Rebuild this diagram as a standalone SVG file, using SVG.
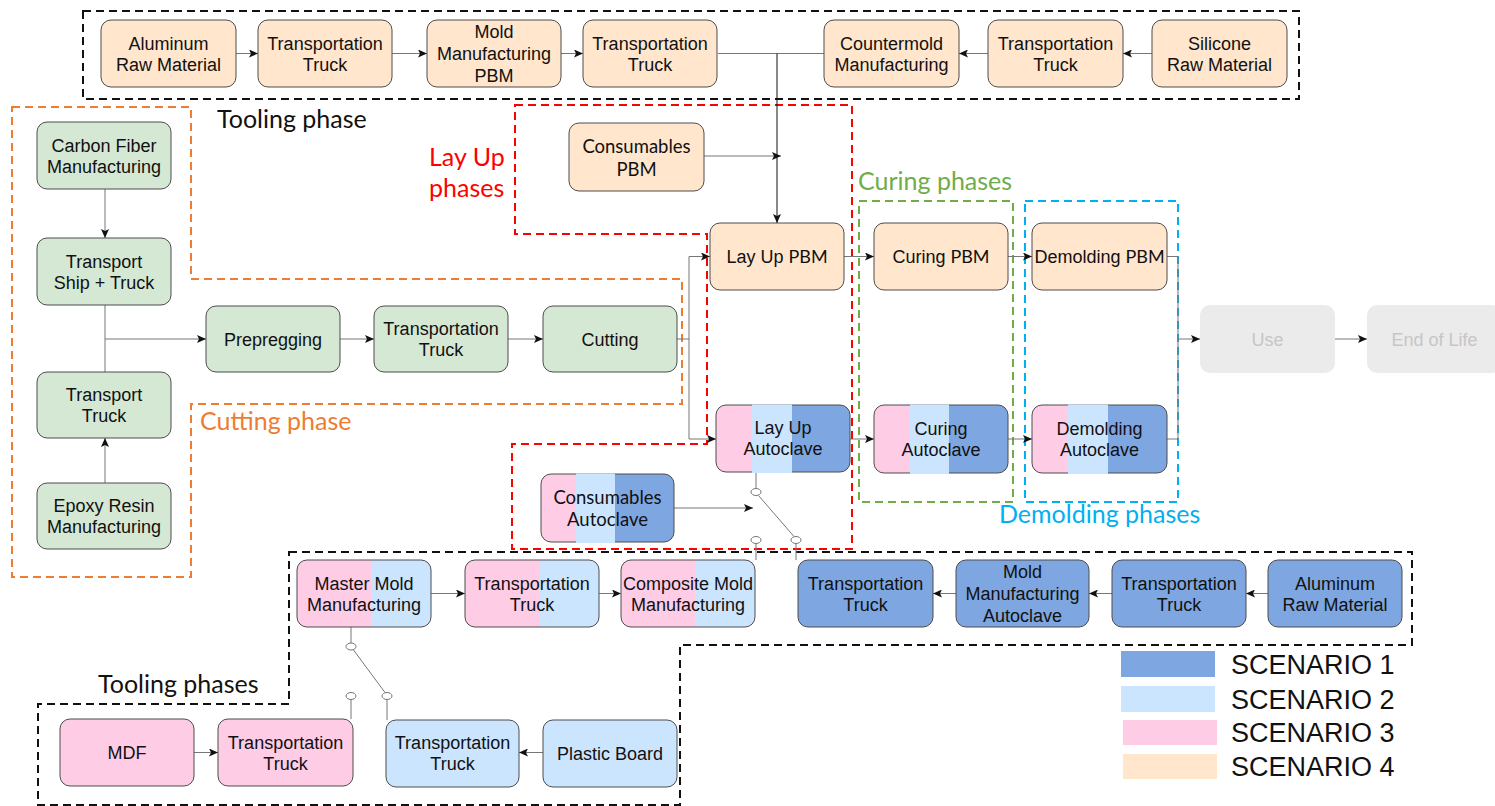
<svg xmlns="http://www.w3.org/2000/svg" width="1495" height="806" viewBox="0 0 1495 806">
<style>
.n{stroke:#4d4d4d;stroke-width:1}
.o{fill:none;stroke:#4d4d4d;stroke-width:1}
.peach{fill:#FFE6CC}.green{fill:#D5E8D4}.pink{fill:#FFCCE6}.lb{fill:#CCE5FF}.db{fill:#7EA6E0}
.t{font-family:"Liberation Sans",Arial,sans-serif;font-size:18px;fill:#111;text-anchor:middle}
.l{font-family:Lato,"Open Sans",sans-serif}
.c{fill:none;stroke:#777;stroke-width:1}
.k{fill:none;stroke:#111;stroke-width:1}
.ph{font-family:Lato,"Open Sans",sans-serif;font-size:25px}
.dash{fill:none;stroke-width:2;stroke-dasharray:8 5}
.sw{fill:#fff;stroke:#777;stroke-width:1}
.lg{font-family:"Liberation Sans",Arial,sans-serif;font-size:27px;fill:#111}
</style>
<defs>
<marker id="a" markerUnits="userSpaceOnUse" markerWidth="10" markerHeight="8" refX="9" refY="4" orient="auto">
<path d="M0,0 L9,4 L0,8 L2,4 Z" fill="#111"/>
</marker>
</defs>
<rect width="1495" height="806" fill="#fff"/>

<g id="frames">
<rect class="dash" x="83" y="11" width="1216" height="88" stroke="#111"/>
<path class="dash" stroke="#ED7D31" d="M12,107 H191 V279 H682 V404 H191 V577 H12 Z"/>
<path class="dash" stroke="#FF0000" d="M515,105 H852 V549 H512 V444 H707 V234 H515 Z"/>
<rect class="dash" x="859" y="201" width="154" height="301" stroke="#70AD47"/>
<rect class="dash" x="1025" y="201" width="153" height="301" stroke="#00B0F0"/>
<path class="dash" stroke="#111" d="M289,552 H1412 V645 H680 V805 H38 V704 H289 Z"/>
<text class="ph" x="217" y="128" fill="#111">Tooling phase</text>
<text class="ph" x="200" y="430" fill="#ED7D31">Cutting phase</text>
<text class="ph" x="429" y="166" fill="#FF0000">Lay Up</text>
<text class="ph" x="429" y="197" fill="#FF0000">phases</text>
<text class="ph" x="858" y="190" fill="#70AD47">Curing phases</text>
<text class="ph" x="999" y="523" fill="#00B0F0">Demolding phases</text>
<text class="ph" x="98" y="693" fill="#111">Tooling phases</text>
</g>

<g id="connectors">
<path class="c" d="M236,53.5 H258" marker-end="url(#a)"/>
<path class="c" d="M392,53.5 H427" marker-end="url(#a)"/>
<path class="c" d="M561,53.5 H583" marker-end="url(#a)"/>
<path class="c" d="M718,53.5 H824"/>
<path class="k" d="M777,53.5 V223" marker-end="url(#a)"/>
<path class="c" d="M704,156 H781" marker-end="url(#a)"/>
<path class="c" d="M988,53.5 H959" marker-end="url(#a)"/>
<path class="c" d="M1152,53.5 H1123" marker-end="url(#a)"/>
<path class="c" d="M105,189 V238" marker-end="url(#a)"/>
<path class="c" d="M105,483 V438" marker-end="url(#a)"/>
<path class="c" d="M105,305 V372"/>
<path class="c" d="M105,339 H206" marker-end="url(#a)"/>
<path class="c" d="M340,339 H374" marker-end="url(#a)"/>
<path class="c" d="M508,339 H543" marker-end="url(#a)"/>
<path class="c" d="M677,339 H689 M689,256.5 V439"/>
<path class="c" d="M689,256.5 H710" marker-end="url(#a)"/>
<path class="c" d="M689,439 H716" marker-end="url(#a)"/>
<path class="c" d="M844,256.5 H874" marker-end="url(#a)"/>
<path class="c" d="M1008,256.5 H1032" marker-end="url(#a)"/>
<path class="c" d="M850,439 H874" marker-end="url(#a)"/>
<path class="c" d="M1008,439 H1032" marker-end="url(#a)"/>
<path class="c" d="M1167,256.5 H1178 V439 H1167"/>
<path class="c" d="M1178,339 H1200" marker-end="url(#a)"/>
<path class="c" d="M1335,339 H1367" marker-end="url(#a)"/>
<path class="c" d="M674,508 H753" marker-end="url(#a)"/>
<path class="c" d="M431,593.5 H465" marker-end="url(#a)"/>
<path class="c" d="M599,593.5 H621" marker-end="url(#a)"/>
<path class="c" d="M956,593.5 H933" marker-end="url(#a)"/>
<path class="c" d="M1112,593.5 H1089" marker-end="url(#a)"/>
<path class="c" d="M1268,593.5 H1246" marker-end="url(#a)"/>
<path class="c" d="M194,752.5 H218" marker-end="url(#a)"/>
<path class="c" d="M543,752.5 H519" marker-end="url(#a)"/>
<path class="c" d="M756,472 V488.5 M758.5,495.5 L794,536.5 M756,543.5 V560 M796,543.5 V560"/>
<ellipse class="sw" cx="756" cy="492" rx="5" ry="3.5"/>
<ellipse class="sw" cx="756" cy="540" rx="5" ry="3.5"/>
<ellipse class="sw" cx="796" cy="540" rx="5" ry="3.5"/>
<path class="c" d="M351,627 V643 M353.5,650 L385,692.5 M351,699.5 V719 M387,699.5 V720"/>
<ellipse class="sw" cx="351" cy="646.5" rx="5" ry="3.5"/>
<ellipse class="sw" cx="351" cy="696" rx="5" ry="3.5"/>
<ellipse class="sw" cx="387" cy="696" rx="5" ry="3.5"/>
</g>

<g id="n_al1"><rect class="n peach" x="101" y="20" width="135" height="67" rx="10"/><text class="t" x="168.5" y="49.5">Aluminum</text><text class="t" x="168.5" y="70.5">Raw Material</text></g>
<g id="n_tt1"><rect class="n peach" x="258" y="20" width="134" height="67" rx="10"/><text class="t" x="325" y="49.5">Transportation</text><text class="t" x="325" y="70.5">Truck</text></g>
<g id="n_mm1"><rect class="n peach" x="427" y="20" width="134" height="67" rx="10"/><text class="t" x="494" y="38">Mold</text><text class="t" x="494" y="60">Manufacturing</text><text class="t" x="494" y="82">PBM</text></g>
<g id="n_tt2"><rect class="n peach" x="583" y="20" width="134" height="67" rx="10"/><text class="t" x="650" y="49.5">Transportation</text><text class="t" x="650" y="70.5">Truck</text></g>
<g id="n_cm"><rect class="n peach" x="824" y="20" width="135" height="67" rx="10"/><text class="t" x="891.5" y="49.5">Countermold</text><text class="t" x="891.5" y="70.5">Manufacturing</text></g>
<g id="n_tt3"><rect class="n peach" x="988" y="20" width="135" height="67" rx="10"/><text class="t" x="1055.5" y="49.5">Transportation</text><text class="t" x="1055.5" y="70.5">Truck</text></g>
<g id="n_si"><rect class="n peach" x="1152" y="20" width="135" height="67" rx="10"/><text class="t" x="1219.5" y="49.5">Silicone</text><text class="t" x="1219.5" y="70.5">Raw Material</text></g>

<g id="n_conspbm"><rect class="n peach" x="569" y="123" width="135" height="68" rx="10"/><text class="t l" x="636.5" y="153" style="font-size:18.5px">Consumables</text><text class="t l" x="636.5" y="176" style="font-size:18.5px">PBM</text></g>

<g id="n_cf"><rect class="n green" x="37" y="122" width="134" height="67" rx="10"/><text class="t" x="104" y="151.5">Carbon Fiber</text><text class="t" x="104" y="172.5">Manufacturing</text></g>
<g id="n_ship"><rect class="n green" x="37" y="238" width="134" height="67" rx="10"/><text class="t" x="104" y="267.5">Transport</text><text class="t" x="104" y="288.5">Ship + Truck</text></g>
<g id="n_ttruck"><rect class="n green" x="37" y="372" width="134" height="66" rx="10"/><text class="t" x="104" y="401">Transport</text><text class="t" x="104" y="422">Truck</text></g>
<g id="n_epoxy"><rect class="n green" x="37" y="483" width="134" height="66" rx="10"/><text class="t" x="104" y="512">Epoxy Resin</text><text class="t" x="104" y="533">Manufacturing</text></g>
<g id="n_prep"><rect class="n green" x="206" y="306" width="134" height="66" rx="10"/><text class="t" x="273" y="345.5">Prepregging</text></g>
<g id="n_ttg"><rect class="n green" x="374" y="306" width="134" height="66" rx="10"/><text class="t" x="441" y="335">Transportation</text><text class="t" x="441" y="356">Truck</text></g>
<g id="n_cut"><rect class="n green" x="543" y="306" width="134" height="66" rx="10"/><text class="t" x="610" y="345.5">Cutting</text></g>

<g id="n_laypbm"><rect class="n peach" x="710" y="223" width="134" height="67" rx="10"/><text class="t" x="777" y="263">Lay Up <tspan class="l">PBM</tspan></text></g>
<g id="n_curpbm"><rect class="n peach" x="874" y="223" width="134" height="67" rx="10"/><text class="t" x="941" y="263">Curing <tspan class="l">PBM</tspan></text></g>
<g id="n_dempbm"><rect class="n peach" x="1032" y="223" width="135" height="67" rx="10"/><text class="t" x="1099.5" y="263">Demolding <tspan class="l">PBM</tspan></text></g>

<g id="n_layac">
<rect class="pink" x="716" y="405" width="134" height="67" rx="10"/>
<path class="db" d="M792,405 H840 A10,10 0 0 1 850,415 V462 A10,10 0 0 1 840,472 H792 Z"/>
<rect class="o" x="716" y="405" width="134" height="67" rx="10"/>
<rect class="lb" x="752" y="404.5" width="40" height="68.5"/>
<text class="t" x="783" y="434">Lay Up</text><text class="t" x="783" y="455">Autoclave</text></g>
<g id="n_curac">
<rect class="pink" x="874" y="405" width="134" height="68" rx="10"/>
<path class="db" d="M949,405 H998 A10,10 0 0 1 1008,415 V463 A10,10 0 0 1 998,473 H949 Z"/>
<rect class="o" x="874" y="405" width="134" height="68" rx="10"/>
<rect class="lb" x="910" y="404.5" width="39" height="69.5"/>
<text class="t" x="941" y="434.5">Curing</text><text class="t" x="941" y="455.5">Autoclave</text></g>
<g id="n_demac">
<rect class="pink" x="1032" y="405" width="135" height="68" rx="10"/>
<path class="db" d="M1108,405 H1157 A10,10 0 0 1 1167,415 V463 A10,10 0 0 1 1157,473 H1108 Z"/>
<rect class="o" x="1032" y="405" width="135" height="68" rx="10"/>
<rect class="lb" x="1068" y="404.5" width="40" height="69.5"/>
<text class="t" x="1099.5" y="434.5">Demolding</text><text class="t" x="1099.5" y="455.5">Autoclave</text></g>
<g id="n_consac">
<rect class="pink" x="541" y="474" width="133" height="68" rx="10"/>
<path class="db" d="M615,474 H664 A10,10 0 0 1 674,484 V532 A10,10 0 0 1 664,542 H615 Z"/>
<rect class="o" x="541" y="474" width="133" height="68" rx="10"/>
<rect class="lb" x="576" y="473.5" width="39" height="69.5"/>
<text class="t l" x="607.5" y="503.5" style="font-size:18.5px">Consumables</text><text class="t l" x="607.5" y="526" style="font-size:18.5px">Autoclave</text></g>

<g id="n_use"><rect x="1200" y="305" width="135" height="68" rx="10" fill="#EBEBEB"/><text class="t" x="1267.5" y="345.5" style="fill:#C6C6C6">Use</text></g>
<g id="n_eol"><rect x="1367" y="305" width="135" height="68" rx="10" fill="#EBEBEB"/><text class="t" x="1434.5" y="345.5" style="fill:#C6C6C6">End of Life</text></g>

<g id="n_master">
<rect class="pink" x="297" y="560" width="134" height="67" rx="10"/>
<path class="lb" d="M371,560 H421 A10,10 0 0 1 431,570 V617 A10,10 0 0 1 421,627 H371 Z"/>
<rect class="o" x="297" y="560" width="134" height="67" rx="10"/>
<text class="t" x="364" y="589.5">Master Mold</text><text class="t" x="364" y="610.5">Manufacturing</text></g>
<g id="n_ttpb">
<rect class="pink" x="465" y="560" width="134" height="67" rx="10"/>
<path class="lb" d="M540,560 H589 A10,10 0 0 1 599,570 V617 A10,10 0 0 1 589,627 H540 Z"/>
<rect class="o" x="465" y="560" width="134" height="67" rx="10"/>
<text class="t" x="532" y="589.5">Transportation</text><text class="t" x="532" y="610.5">Truck</text></g>
<g id="n_comp">
<rect class="pink" x="621" y="560" width="134" height="67" rx="10"/>
<path class="lb" d="M695,560 H745 A10,10 0 0 1 755,570 V617 A10,10 0 0 1 745,627 H695 Z"/>
<rect class="o" x="621" y="560" width="134" height="67" rx="10"/>
<text class="t" x="688" y="589.5">Composite Mold</text><text class="t" x="688" y="610.5">Manufacturing</text></g>

<g id="n_ttd1"><rect class="n db" x="798" y="560" width="135" height="67" rx="10"/><text class="t" x="865.5" y="589.5">Transportation</text><text class="t" x="865.5" y="610.5">Truck</text></g>
<g id="n_mmac"><rect class="n db" x="956" y="560" width="133" height="67" rx="10"/><text class="t" x="1022.5" y="578">Mold</text><text class="t" x="1022.5" y="600">Manufacturing</text><text class="t" x="1022.5" y="622">Autoclave</text></g>
<g id="n_ttd2"><rect class="n db" x="1112" y="560" width="134" height="67" rx="10"/><text class="t" x="1179" y="589.5">Transportation</text><text class="t" x="1179" y="610.5">Truck</text></g>
<g id="n_al2"><rect class="n db" x="1268" y="560" width="134" height="67" rx="10"/><text class="t" x="1335" y="589.5">Aluminum</text><text class="t" x="1335" y="610.5">Raw Material</text></g>

<g id="n_mdf"><rect class="n pink" x="60" y="719" width="134" height="67" rx="10"/><text class="t" x="127" y="759">MDF</text></g>
<g id="n_ttp"><rect class="n pink" x="218" y="719" width="135" height="67" rx="10"/><text class="t" x="285.5" y="748.5">Transportation</text><text class="t" x="285.5" y="769.5">Truck</text></g>
<g id="n_ttl"><rect class="n lb" x="386" y="720" width="133" height="67" rx="10"/><text class="t" x="452.5" y="749">Transportation</text><text class="t" x="452.5" y="770">Truck</text></g>
<g id="n_plastic"><rect class="n lb" x="543" y="720" width="134" height="67" rx="10"/><text class="t" x="610" y="759.5">Plastic Board</text></g>

<g id="legend">
<rect class="db" x="1121" y="651" width="94" height="26"/>
<rect class="lb" x="1121" y="686" width="94" height="26"/>
<rect class="pink" x="1123" y="720" width="94" height="25"/>
<rect class="peach" x="1123" y="754" width="94" height="25"/>
<text class="lg" x="1231" y="674">SCENARIO 1</text>
<text class="lg" x="1231" y="709">SCENARIO 2</text>
<text class="lg" x="1231" y="742">SCENARIO 3</text>
<text class="lg" x="1231" y="776">SCENARIO 4</text>
</g>
</svg>
